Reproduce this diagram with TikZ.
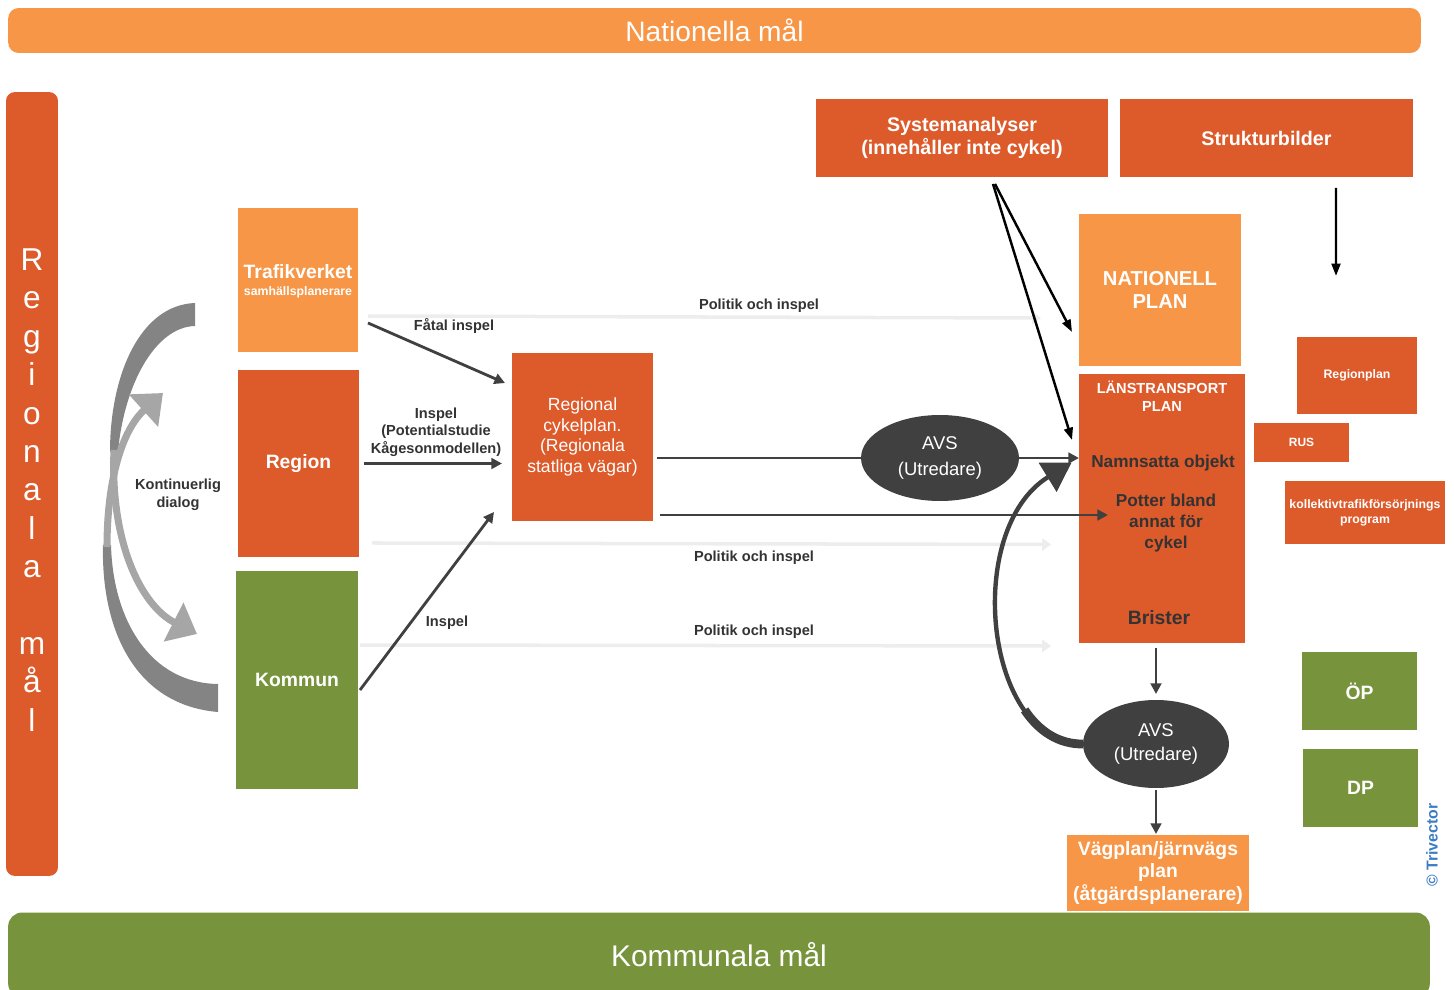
\documentclass[tikz,border=0pt]{standalone}
\usepackage{fontspec}
\setmainfont{Liberation Sans}
\usetikzlibrary{arrows.meta,positioning,calc,shapes.geometric}
\definecolor{lightorange}{HTML}{F79646}
\definecolor{darkorange}{HTML}{DD5A2B}
\definecolor{grassgreen}{HTML}{77933C}
\definecolor{darkgray}{HTML}{404040}
\definecolor{textgray}{HTML}{333333}
\definecolor{palegray}{HTML}{EDEDED}
\definecolor{swooshdark}{HTML}{848484}
\definecolor{swooshlight}{HTML}{A6A6A6}
\definecolor{trivblue}{HTML}{3C7DC4}

\begin{document}
\begin{tikzpicture}[
  x=0.02cm, y=-0.02cm,
  blk/.style={rectangle, inner sep=0pt, outer sep=0pt, align=center, text=white, fill=#1},
  lbl/.style={inner sep=0pt, align=center, text=textgray, font=\fontsize{8.3}{10}\selectfont\bfseries},
  ltptext/.style={inner sep=0pt, align=center, text=textgray, font=\fontsize{9.8}{12}\selectfont\bfseries},
  avs/.style={ellipse, fill=darkgray, text=white, inner sep=0pt, outer sep=0pt, align=center},
  arr/.style={draw=darkgray, line width=1.6pt, -{Triangle[length=6pt,width=6pt]}},
  blackarr/.style={draw=black, line width=1.4pt, -{Triangle[length=7pt,width=5pt]}},
  faint/.style={draw=palegray, line width=2pt, -{Triangle[length=5pt,width=7pt]}},
  dlgdark/.style={fill=swooshdark},
  dlglight/.style={draw=swooshlight, line width=4pt, -{Triangle[length=15pt,width=24pt]}},
  swoosh/.style={draw=darkgray, line width=2.5pt, -{Triangle[length=16pt,width=19pt]}},
]
  \useasboundingbox (0,0) rectangle (1454,990);

  % goal bars
  \node[blk=lightorange, rounded corners=6pt, minimum width=28.26cm, minimum height=0.9cm, font=\fontsize{16}{19}\selectfont] (natmal) at (714.5,30.5) {Nationella mål};
  \node[blk=grassgreen, rounded corners=8pt, minimum width=28.44cm, minimum height=1.7cm, font=\fontsize{17}{20}\selectfont] (kommal) at (719,955) {Kommunala mål};
  \node[blk=darkorange, rounded corners=5pt, minimum width=1.04cm, minimum height=15.68cm] (regmal) at (32,484) {};
  \node[inner sep=0pt, align=center, text=white, font=\fontsize{18}{21.85}\selectfont] (regmaltext) at (32,490) {R\\e\\g\\i\\o\\n\\a\\l\\a\\[21.85pt]m\\å\\l};

  % actors
  \node[blk=lightorange, minimum width=2.4cm, minimum height=2.88cm, text depth=-3pt] (trafik) at (298,280) {{\fontsize{11}{13}\selectfont\bfseries Trafikverket}\\[-2pt]{\fontsize{7}{8}\selectfont\bfseries samhällsplanerare}};
  \node[blk=darkorange, minimum width=2.42cm, minimum height=3.74cm, font=\fontsize{11}{13}\selectfont\bfseries] (region) at (298.5,463.5) {Region};
  \node[blk=grassgreen, minimum width=2.44cm, minimum height=4.36cm, font=\fontsize{11}{13}\selectfont\bfseries] (kommun) at (297,680) {Kommun};
  \node[blk=darkorange, minimum width=2.82cm, minimum height=3.36cm, font=\fontsize{10}{11.8}\selectfont] (regional) at (582.5,437) {Regional\\cykelplan.\\(Regionala\\statliga vägar)};

  % national level
  \node[blk=darkorange, minimum width=5.84cm, minimum height=1.56cm, font=\fontsize{11.2}{13}\selectfont\bfseries] (sys) at (962,138) {Systemanalyser\\(innehåller inte cykel)};
  \node[blk=darkorange, minimum width=5.86cm, minimum height=1.56cm, font=\fontsize{11.2}{13}\selectfont\bfseries] (struk) at (1266.5,138) {Strukturbilder};
  \node[blk=lightorange, minimum width=3.24cm, minimum height=3.04cm, font=\fontsize{11.5}{13}\selectfont\bfseries] (nat) at (1160,290) {NATIONELL\\PLAN};
  \node[blk=darkorange, minimum width=3.32cm, minimum height=5.38cm] (ltp) at (1162,508.5) {};
  \node[inner sep=0pt, align=center, text=white, font=\fontsize{8.3}{10.2}\selectfont\bfseries] (ltptitle) at (1162,396) {LÄNSTRANSPORT\\PLAN};
  \node[ltptext] (namn) at (1163,463) {Namnsatta objekt};
  \node[ltptext] (potter) at (1166,523) {Potter bland\\annat för\\cykel};
  \node[ltptext, font=\fontsize{11}{13}\selectfont\bfseries] (brister) at (1159,618) {Brister};

  % regional and municipal plans
  \node[blk=darkorange, minimum width=2.4cm, minimum height=1.54cm, font=\fontsize{7}{8.5}\selectfont\bfseries] (regplan) at (1357,375.5) {Regionplan};
  \node[blk=darkorange, minimum width=1.9cm, minimum height=0.78cm, font=\fontsize{6.8}{8}\selectfont\bfseries] (rus) at (1301.5,442.5) {RUS};
  \node[blk=darkorange, minimum width=3.2cm, minimum height=1.26cm, font=\fontsize{7}{8.5}\selectfont\bfseries] (koll) at (1365,512.5) {kollektivtrafikförsörjnings\\program};
  \node[blk=grassgreen, minimum width=2.3cm, minimum height=1.56cm, font=\fontsize{11}{13}\selectfont\bfseries] (op) at (1359.5,691) {ÖP};
  \node[blk=grassgreen, minimum width=2.3cm, minimum height=1.56cm, font=\fontsize{11}{13}\selectfont\bfseries] (dp) at (1360.5,788) {DP};
  \node[blk=lightorange, minimum width=3.64cm, minimum height=1.52cm, font=\fontsize{11}{13}\selectfont\bfseries] (vag) at (1158,873) {Vägplan/järnvägs\\plan\\(åtgärdsplanerare)};

  % investigators
  \node[avs, minimum width=3.16cm, minimum height=1.72cm, font=\fontsize{10.5}{14.8}\selectfont] (avs1) at (940,458) {AVS\\(Utredare)};
  \node[avs, minimum width=2.92cm, minimum height=1.76cm, font=\fontsize{10.5}{13.6}\selectfont] (avs2) at (1156,744) {AVS\\(Utredare)};

  % labels
  \node[lbl] (lblfatal) at (454,326) {Fåtal inspel};
  \node[lbl] (lblinspel) at (436,432) {Inspel\\(Potentialstudie\\Kågesonmodellen)};
  \node[lbl] (lblkommun) at (447,623) {Inspel};
  \node[lbl] (lblpol1) at (759,306) {Politik och inspel};
  \node[lbl] (lblpol2) at (754,558) {Politik och inspel};
  \node[lbl] (lblpol3) at (754,632) {Politik och inspel};
  \node[lbl] (lbldialog) at (178,495) {Kontinuerlig\\dialog};
  \node[inner sep=0pt, rotate=90, text=trivblue, font=\fontsize{9}{10}\selectfont\bfseries] (triv) at (1432,845) {© Trivector};

  % free ends
  \coordinate (dlgtop) at (195,314);
  \coordinate (dlgbot) at (218,697);
  \coordinate (dlgtipdown) at (197,634);
  \coordinate (dlgtipup) at (163,393);
  \coordinate (strukend) at (1336,276);
  \coordinate (pottarget) at (1108,515);

  % politik och inspel
  \draw[faint] ($(trafik.east)+(10,36)$) -- ($(nat.west)+(-38,28)$);
  \draw[faint] ($(region.south east)+(13,-14)$) -- ($(ltp.west)+(-28,36)$);
  \draw[faint] ($(kommun.east)+(2,-35)$) -- ($(ltp.south west)+(-28,3)$);

  % inspel to regional plan
  \draw[arr] ($(trafik.south east)+(10,-29)$) -- ($(regional.north west)+(-7,30)$);
  \draw[arr] ([xshift=0.1cm]region.east) -- ($(regional.west |- region.east)+(-10,0)$);
  \draw[arr] ($(kommun.east)+(2,10)$) -- ($(regional.south west)+(-18,-9)$);

  % regional plan to county plan
  \draw[darkgray, line width=1.6pt] ($(regional.east |- avs1)+(4,0)$) -- (avs1.west);
  \draw[arr] (avs1.east) -- (ltp.west |- avs1.east);
  \draw[arr] ($(regional.east |- pottarget)+(7,0)$) -- (pottarget);

  % national analyses
  \draw[blackarr] ($(sys.south)+(33,7)$) -- ($(nat.west)+(-7,42)$);
  \draw[blackarr] ($(sys.south)+(31,7)$) -- ($(ltp.north west)+(-7,66)$);
  \draw[blackarr] ($(struk.south)+(69.5,11)$) -- (strukend);

  % county plan to project
  \draw[arr] ($(avs2.north |- ltp.south)+(0,5)$) -- ($(avs2.north)+(0,-6)$);
  \draw[arr] ($(avs2.south)+(0,2)$) -- ($(vag.north)+(-2,-1)$);
  \draw[swoosh, shorten >=5pt] (avs2.west) .. controls (985,745) and (962,530) .. (ltp.west |- avs1.east);
  \draw[darkgray, line width=5pt] (avs2.west) .. controls (1058.5,744.25) and (1038.7,731) .. (1024.6,709.9);

  % continuous dialog
  \fill[dlgdark] (195,303) .. controls (140,305) and (110,375) .. (110,452) -- (118,452) .. controls (124,385) and (155,327) .. (dlgtop |- 0,326) -- cycle;
  \draw[dlglight] (114,450) .. controls (110,540) and (140,605) .. (dlgtipdown);
  \fill[dlgdark] (218,712) .. controls (135,705) and (101,630) .. (103,545) -- (111,545) .. controls (113,620) and (150,683) .. (dlgbot |- 0,684) -- cycle;
  \draw[dlglight] (107,547) .. controls (107,480) and (122,430) .. (dlgtipup);
\end{tikzpicture}
\end{document}
